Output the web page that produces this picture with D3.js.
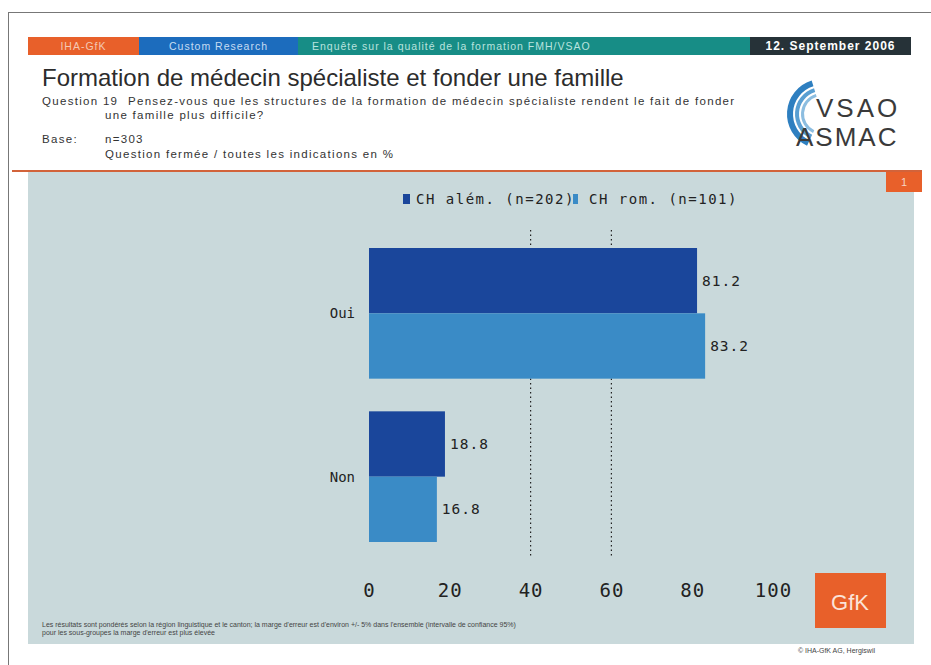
<!DOCTYPE html>
<html>
<head>
<meta charset="utf-8">
<script src="https://cdn.jsdelivr.net/npm/d3@7"></script>
<style>
  body { margin: 0; background: #fff; }
  svg text { font-family: "Liberation Sans", Arial, sans-serif; }
  .mono { font-family: "DejaVu Sans Mono", monospace !important; }
</style>
</head>
<body>
<div class="container"></div>
<script>
const wd = 931, ht = 665

// data
const categories = ["Oui", "Non"]
const seriesNames = ["CH além. (n=202)", "CH rom. (n=101)"]
const alem = [81.2, 18.8]
const rom = [83.2, 16.8]
const ticks = [0, 20, 40, 60, 80, 100]
const gridAt = [40, 60]

const colors = ["#1a469b", "#3a8bc6"]

const svg = d3.select(".container").append("svg")
  .attr("width", wd).attr("height", ht)

// page frame
svg.append("rect").attr("x", 8.5).attr("y", 12.5).attr("width", 940).attr("height", 700)
  .attr("fill", "none").attr("stroke", "#777")

// header band
const header = [
  {x0: 28, x1: 139, fill: "#e8602a", txt: "IHA-GfK", col: "#f4c9b5"},
  {x0: 139, x1: 298, fill: "#1c6cbd", txt: "Custom Research", col: "#c6dcf2"},
  {x0: 298, x1: 750, fill: "#178d86", txt: "Enquête sur la qualité de la formation  FMH/VSAO", col: "#b9e3df", left: true},
  {x0: 750, x1: 911, fill: "#263238", txt: "12. September 2006", col: "#ffffff"}
]
svg.selectAll(".hd").data(header).enter().append("rect")
  .attr("x", d => d.x0).attr("y", 37).attr("width", d => d.x1 - d.x0).attr("height", 18)
  .attr("fill", d => d.fill)
svg.selectAll(".hdt").data(header).enter().append("text")
  .attr("x", d => d.left ? d.x0 + 14 : (d.x0 + d.x1) / 2)
  .attr("y", 50)
  .attr("text-anchor", d => d.left ? "start" : "middle")
  .attr("fill", d => d.col)
  .style("font-size", (d, i) => i == 3 ? "12px" : "10.5px")
  .style("font-weight", (d, i) => i == 3 ? "bold" : "normal")
  .style("letter-spacing", "1px")
  .text(d => d.txt)

// titles
svg.append("text").attr("x", 42).attr("y", 86).attr("fill", "#2c2c2c")
  .style("font-size", "24px").text("Formation de médecin spécialiste et fonder une famille")
const small = [
  {x: 42, y: 105, t: "Question 19"},
  {x: 128, y: 105, t: "Pensez-vous que les structures de la formation de médecin spécialiste rendent le fait de fonder"},
  {x: 105, y: 119, t: "une famille plus difficile?"},
  {x: 42, y: 143, t: "Base:"},
  {x: 105, y: 143, t: "n=303"},
  {x: 105, y: 158, t: "Question fermée / toutes les indications en %"}
]
svg.selectAll(".sm").data(small).enter().append("text")
  .attr("x", d => d.x).attr("y", d => d.y).attr("fill", "#333")
  .style("font-size", "11.5px").style("letter-spacing", "1.3px").text(d => d.t)

// logo
const arc = d3.arc()
const logo = svg.append("g").attr("transform", "translate(822,114)")
const rings = [
  {r0: 29, r1: 35, c: "#2e7fc0"},
  {r0: 23, r1: 27, c: "#5a9fd2"},
  {r0: 18, r1: 21, c: "#8cbde0"}
]
logo.selectAll("path").data(rings).enter().append("path")
  .attr("d", d => arc({innerRadius: d.r0, outerRadius: d.r1, startAngle: -2.7, endAngle: -0.3}))
  .attr("fill", d => d.c)
svg.append("text").attr("x", 816).attr("y", 117).attr("fill", "#3a3a3a")
  .style("font-size", "26px").style("letter-spacing", "3px").text("VSAO")
svg.append("text").attr("x", 796).attr("y", 146).attr("fill", "#3a3a3a")
  .style("font-size", "26px").style("letter-spacing", "2px").text("ASMAC")

// panel
svg.append("rect").attr("x", 28).attr("y", 172).attr("width", 886).attr("height", 472)
  .attr("fill", "#c9d9db")
svg.append("line").attr("x1", 12).attr("x2", 922).attr("y1", 171).attr("y2", 171)
  .attr("stroke", "#d2633a").attr("stroke-width", 2)
svg.append("rect").attr("x", 886).attr("y", 172).attr("width", 36).attr("height", 20).attr("fill", "#e8602a")
svg.append("text").attr("x", 904).attr("y", 186).attr("text-anchor", "middle").attr("fill", "#f6d3c2")
  .style("font-size", "11px").text("1")

// scales
const x = d3.scaleLinear().domain([0, 100]).range([369, 773])
const y0 = d3.scaleBand().domain(categories).range([248, 542]).paddingInner(0.2)
const y1 = d3.scaleBand().domain([0, 1]).range([0, y0.bandwidth()])

// gridlines
svg.selectAll(".grid").data(gridAt).enter().append("line")
  .attr("x1", d => x(d)).attr("x2", d => x(d)).attr("y1", 230).attr("y2", 556)
  .attr("stroke", "#222").attr("stroke-width", 1.2).attr("stroke-dasharray", "1.5,3")

// bars
const series = [alem, rom]
const barData = []
categories.forEach((c, ci) => series.forEach((s, si) => barData.push({cat: c, s: si, v: s[ci]})))

svg.selectAll(".bar").data(barData).enter().append("rect")
  .attr("x", x(0))
  .attr("y", d => y0(d.cat) + y1(d.s))
  .attr("width", d => x(d.v) - x(0))
  .attr("height", y1.bandwidth())
  .attr("fill", d => colors[d.s])

svg.selectAll(".val").data(barData).enter().append("text")
  .attr("class", "mono")
  .attr("x", d => x(d.v) + 5)
  .attr("y", d => y0(d.cat) + y1(d.s) + y1.bandwidth() / 2 + 5)
  .attr("fill", "#222").style("font-size", "14.5px").style("letter-spacing", "1px")
  .text(d => d.v.toFixed(1))

// category labels
svg.selectAll(".cat").data(categories).enter().append("text")
  .attr("class", "mono")
  .attr("x", 355).attr("y", d => y0(d) + y0.bandwidth() / 2 + 5)
  .attr("text-anchor", "end").attr("fill", "#222").style("font-size", "14px")
  .text(d => d)

// x axis
const xAxis = svg.append("g").attr("transform", "translate(0,580)")
  .call(d3.axisBottom(x).tickValues(ticks).tickSize(0))
xAxis.select(".domain").remove()
xAxis.selectAll("text").attr("class", "mono").attr("fill", "#222")
  .style("font-size", "19px").style("letter-spacing", "1px")

// legend
const leg = svg.selectAll(".leg").data(seriesNames).enter().append("g")
  .attr("transform", (d, i) => "translate(" + (i == 0 ? 403 : 573) + ",194)")
leg.append("rect").attr("width", (d, i) => i == 0 ? 7 : 5).attr("height", 10).attr("fill", (d, i) => colors[i])
leg.append("text").attr("class", "mono").attr("x", (d, i) => i == 0 ? 13 : 16).attr("y", 10)
  .attr("fill", "#222").style("font-size", "14px").style("letter-spacing", "1.5px")
  .text(d => d)

// footnote
svg.append("text").attr("x", 42).attr("y", 627).attr("fill", "#444").style("font-size", "7px")
  .text("Les résultats sont pondérés selon la région linguistique et le canton; la marge d'erreur est d'environ +/- 5% dans l'ensemble (intervalle de confiance 95%)")
svg.append("text").attr("x", 42).attr("y", 635).attr("fill", "#444").style("font-size", "7px")
  .text("pour les sous-groupes la marge d'erreur est plus élevée")

// GfK logo
svg.append("rect").attr("x", 815).attr("y", 573).attr("width", 71).attr("height", 55).attr("fill", "#e8602a")
svg.append("text").attr("x", 850).attr("y", 610).attr("text-anchor", "middle").attr("fill", "#fbe3d8")
  .style("font-size", "22px").text("GfK")
svg.append("text").attr("x", 875).attr("y", 653).attr("text-anchor", "end").attr("fill", "#444")
  .style("font-size", "7px").text("© IHA-GfK AG, Hergiswil")
</script>
</body>
</html>
